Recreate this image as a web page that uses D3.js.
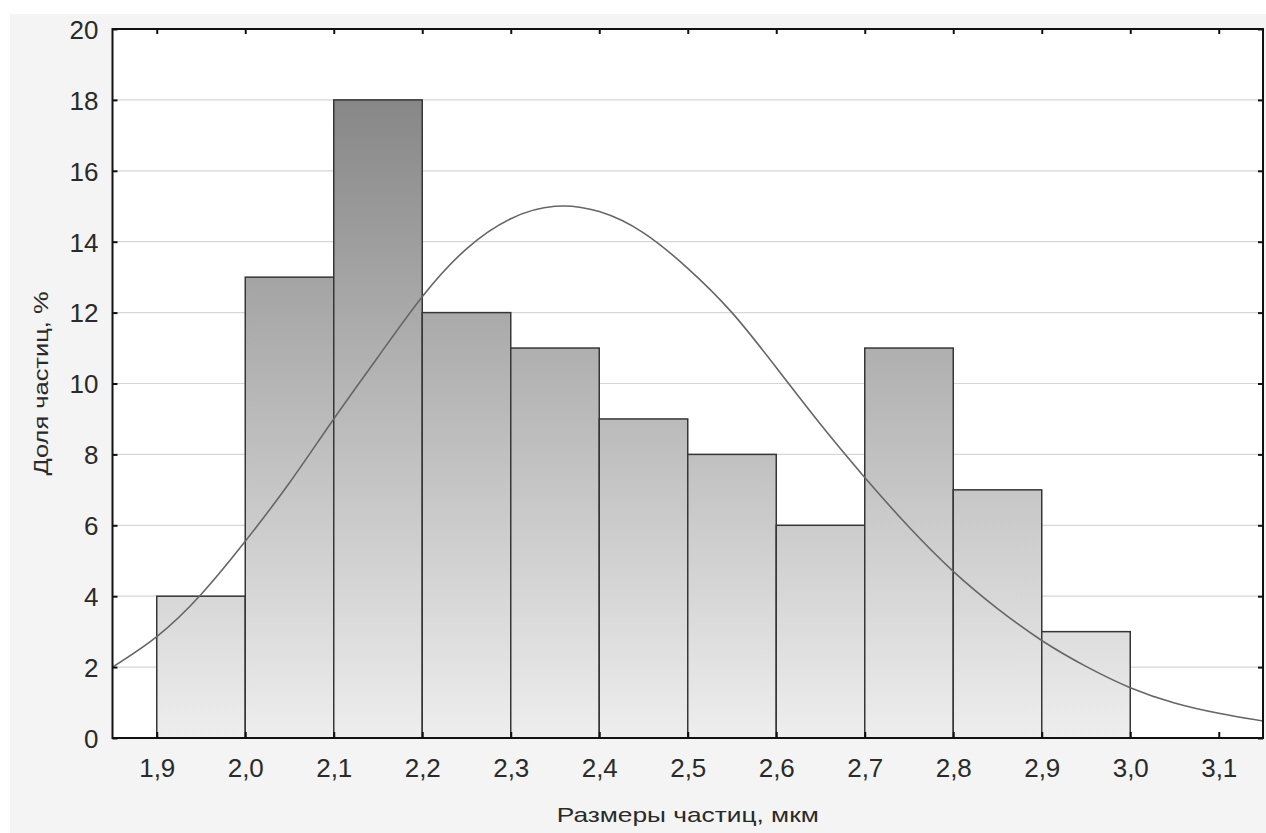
<!DOCTYPE html>
<html>
<head>
<meta charset="utf-8">
<script src="https://cdn.jsdelivr.net/npm/d3@7/dist/d3.min.js"></script>
<style>
  html, body { margin: 0; padding: 0; background: #ffffff; }
  svg { display: block; }
  text { font-family: "Liberation Sans", Arial, sans-serif; fill: #2a2a2a; }
</style>
</head>
<body>
<svg id="chart" width="1266" height="833"></svg>
<script>
// ---- Data ----
const binStarts = [1.9, 2.0, 2.1, 2.2, 2.3, 2.4, 2.5, 2.6, 2.7, 2.8, 2.9];
const binWidth = 0.1;
const shares = [4, 13, 18, 12, 11, 9, 8, 6, 11, 7, 3];

const curveX = [1.85, 1.90, 1.95, 2.00, 2.05, 2.10, 2.15, 2.20, 2.25, 2.30, 2.35, 2.40, 2.45, 2.50,
                2.55, 2.60, 2.65, 2.70, 2.75, 2.80, 2.85, 2.90, 2.95, 3.00, 3.05, 3.10, 3.15];
const curveY = [2.0, 2.86, 4.05, 5.55, 7.2, 9.0, 10.75, 12.45, 13.8, 14.65, 15.0, 14.85, 14.25, 13.25,
                12.0, 10.45, 8.85, 7.35, 5.95, 4.7, 3.65, 2.75, 2.02, 1.42, 0.99, 0.7, 0.48];

const xTicks = [1.9, 2.0, 2.1, 2.2, 2.3, 2.4, 2.5, 2.6, 2.7, 2.8, 2.9, 3.0, 3.1];
const yTicks = [0, 2, 4, 6, 8, 10, 12, 14, 16, 18, 20];
const xTitle = "Размеры частиц, мкм";
const yTitle = "Доля частиц, %";

// ---- Layout ----
const svg = d3.select("#chart");
const W = 1266, H = 833;
const plot = { left: 112.5, top: 29, right: 1263, bottom: 738 };

svg.append("rect").attr("x", 10).attr("y", 14).attr("width", W - 10).attr("height", H - 14)
  .attr("fill", "#f4f4f4");

const x = d3.scaleLinear().domain([1.85, 3.15]).range([plot.left, plot.right]);
const y = d3.scaleLinear().domain([0, 20]).range([plot.bottom, plot.top]);

const defs = svg.append("defs");
const grad = defs.append("linearGradient").attr("id", "barGrad")
  .attr("gradientUnits", "userSpaceOnUse")
  .attr("x1", 0).attr("x2", 0).attr("y1", y(0)).attr("y2", y(18));
grad.append("stop").attr("offset", "0%").attr("stop-color", "#eeeeee");
grad.append("stop").attr("offset", "100%").attr("stop-color", "#878787");

defs.append("clipPath").attr("id", "plotClip").append("rect")
  .attr("x", plot.left).attr("y", plot.top)
  .attr("width", plot.right - plot.left).attr("height", plot.bottom - plot.top);

// plot background
svg.append("rect").attr("x", plot.left).attr("y", plot.top)
  .attr("width", plot.right - plot.left).attr("height", plot.bottom - plot.top)
  .attr("fill", "#ffffff");

// grid
svg.append("g").selectAll("line").data(yTicks.filter(d => d > 0 && d < 20)).join("line")
  .attr("x1", plot.left).attr("x2", plot.right)
  .attr("y1", d => y(d)).attr("y2", d => y(d))
  .attr("stroke", "#d6d6d6").attr("stroke-width", 1.2);

// bars
svg.append("g").selectAll("rect").data(binStarts).join("rect")
  .attr("x", d => x(d))
  .attr("width", d => x(d + binWidth) - x(d))
  .attr("y", (d, i) => y(shares[i]))
  .attr("height", (d, i) => y(0) - y(shares[i]))
  .attr("fill", "url(#barGrad)")
  .attr("stroke", "#363636").attr("stroke-width", 1.5);

// curve
const pts = curveX.map((v, i) => [v, curveY[i]]);
svg.append("path").datum(pts)
  .attr("clip-path", "url(#plotClip)")
  .attr("d", d3.line().x(d => x(d[0])).y(d => y(d[1])).curve(d3.curveNatural))
  .attr("fill", "none").attr("stroke", "#666").attr("stroke-width", 1.6);

// axes (ticks inward)
const axB = svg.append("g").attr("transform", `translate(0,${plot.bottom})`)
  .call(d3.axisBottom(x).tickValues(xTicks).tickSizeInner(-6).tickSizeOuter(0)
    .tickFormat(d => d3.format(".1f")(d).replace(".", ",")));
axB.select(".domain").remove();
axB.selectAll(".tick line").attr("stroke", "#111").attr("stroke-width", 2);
axB.selectAll(".tick text").attr("y", 38.5).attr("dy", 0)
  .attr("font-size", 26).attr("fill", "#2a2a2a");

const axL = svg.append("g").attr("transform", `translate(${plot.left},0)`)
  .call(d3.axisLeft(y).tickValues(yTicks).tickSizeInner(-5).tickSizeOuter(0));
axL.select(".domain").remove();
axL.selectAll(".tick line").attr("stroke", "#111").attr("stroke-width", 2);
axL.selectAll(".tick text").attr("x", -14).attr("dy", "0.36em")
  .attr("font-size", 26).attr("fill", "#2a2a2a");

const axT = svg.append("g").attr("transform", `translate(0,${plot.top})`)
  .call(d3.axisTop(x).tickValues(xTicks).tickSizeInner(-5).tickSizeOuter(0).tickFormat(""));
axT.select(".domain").remove();
axT.selectAll(".tick line").attr("stroke", "#111").attr("stroke-width", 2);

const axR = svg.append("g").attr("transform", `translate(${plot.right},0)`)
  .call(d3.axisRight(y).tickValues(yTicks).tickSizeInner(-5).tickSizeOuter(0).tickFormat(""));
axR.select(".domain").remove();
axR.selectAll(".tick line").attr("stroke", "#111").attr("stroke-width", 2);

// frame
svg.append("rect").attr("x", plot.left).attr("y", plot.top)
  .attr("width", plot.right - plot.left).attr("height", plot.bottom - plot.top)
  .attr("fill", "none").attr("stroke", "#111").attr("stroke-width", 2);

// titles
svg.append("text")
  .attr("transform", `translate(${(plot.left + plot.right) / 2},822)`)
  .attr("text-anchor", "middle").attr("font-size", 21)
  .attr("textLength", 262).attr("lengthAdjust", "spacingAndGlyphs")
  .text(xTitle);

svg.append("text")
  .attr("transform", `translate(48,${(plot.top + plot.bottom) / 2}) rotate(-90)`)
  .attr("text-anchor", "middle").attr("font-size", 21)
  .attr("textLength", 184).attr("lengthAdjust", "spacingAndGlyphs")
  .text(yTitle);
</script>
</body>
</html>
